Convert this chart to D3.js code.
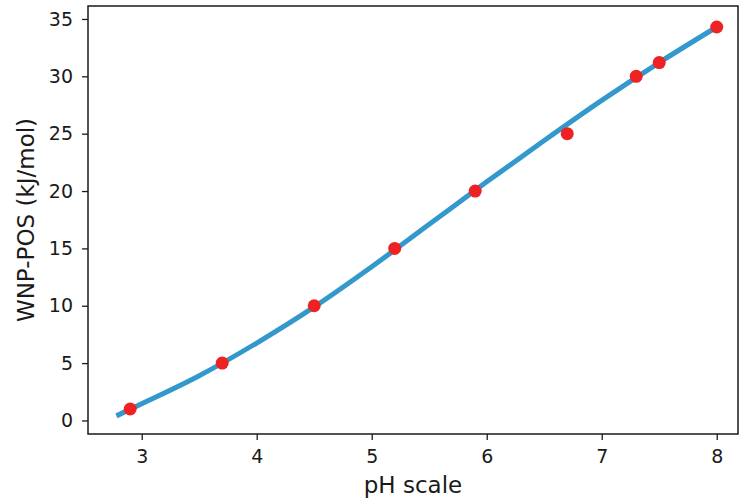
<!DOCTYPE html>
<html lang="en">
<head>
  <meta charset="utf-8">
  <title>WNP-POS vs pH</title>
  <script src="https://d3js.org/d3.v7.min.js"></script>
  <style>
    body { margin: 0; background: #ffffff; }
    svg text { font-family: "DejaVu Sans", sans-serif; }
    .tick text { font-size: 19px; fill: #1a1a1a; }
    .tick line { stroke: #1a1a1a; stroke-width: 1.3px; }
    .domain { display: none; }
    .axis-label { font-size: 23px; fill: #1a1a1a; }
  </style>
</head>
<body>
<script>
// measured points
var phValues = [2.9, 3.7, 4.5, 5.2, 5.9, 6.7, 7.3, 7.5, 8.0];
var wnpValues = [1.0, 5.0, 10.0, 15.0, 20.0, 25.0, 30.0, 31.2, 34.3];

// fitted curve
var fitPh = [2.78, 3.0, 3.5, 4.0, 4.5, 5.0, 5.5, 6.0, 6.5, 7.0, 7.5, 8.0];
var fitWnp = [0.4, 1.45, 3.9, 6.75, 9.9, 13.4, 17.1, 20.8, 24.4, 27.9, 31.2, 34.3];

var xTicks = [3, 4, 5, 6, 7, 8];
var yTicks = [0, 5, 10, 15, 20, 25, 30, 35];

var width = 739, height = 498;
var margin = { left: 88, right: 1, top: 6, bottom: 64 };

var x = d3.scaleLinear()
    .domain([2.533, 8.185])
    .range([margin.left, width - margin.right]);

var y = d3.scaleLinear()
    .domain([-1.18, 36.13])
    .range([height - margin.bottom, margin.top]);

var svg = d3.select("body").append("svg")
    .attr("width", width)
    .attr("height", height);

svg.append("g")
    .attr("transform", "translate(0," + (height - margin.bottom) + ")")
    .call(d3.axisBottom(x).tickValues(xTicks).tickSize(6).tickPadding(10).tickFormat(d3.format("d")));

svg.append("g")
    .attr("transform", "translate(" + margin.left + ",0)")
    .call(d3.axisLeft(y).tickValues(yTicks).tickSize(6).tickPadding(9).tickFormat(d3.format("d")));

// frame
svg.append("rect")
    .attr("x", margin.left)
    .attr("y", margin.top)
    .attr("width", width - margin.right - margin.left)
    .attr("height", height - margin.bottom - margin.top)
    .attr("fill", "none")
    .attr("stroke", "#1a1a1a")
    .attr("stroke-width", 1.5);

var fit = fitPh.map(function(d, i) { return [d, fitWnp[i]]; });

svg.append("path")
    .datum(fit)
    .attr("fill", "none")
    .attr("stroke", "#3399cc")
    .attr("stroke-width", 5)
    .attr("d", d3.line()
      .x(d => x(d[0]))
      .y(d => y(d[1]))
      .curve(d3.curveMonotoneX));

svg.append("g")
    .selectAll("circle")
    .data(phValues)
    .enter().append("circle")
    .attr("cx", d => x(d))
    .attr("cy", (d, i) => y(wnpValues[i]))
    .attr("r", 6.5)
    .attr("fill", "#ee2222");

svg.append("text")
    .attr("class", "axis-label")
    .attr("x", (margin.left + width - margin.right) / 2)
    .attr("y", 493)
    .attr("text-anchor", "middle")
    .text("pH scale");

svg.append("text")
    .attr("class", "axis-label")
    .attr("transform", "translate(34," + ((margin.top + height - margin.bottom) / 2) + ") rotate(-90)")
    .attr("text-anchor", "middle")
    .text("WNP-POS (kJ/mol)");
</script>
</body>
</html>
